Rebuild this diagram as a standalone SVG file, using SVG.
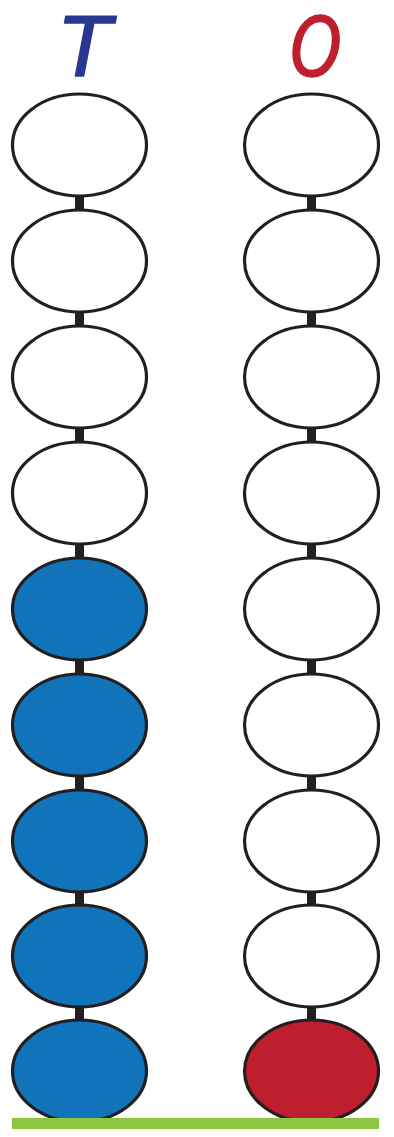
<svg xmlns="http://www.w3.org/2000/svg" width="394" height="1137" viewBox="0 0 394 1137">
<style>
.b{stroke:#231f20;stroke-width:3.2}
.w{fill:#ffffff}
.bl{fill:#1174bb}
.rd{fill:#be1e2d}
.lbl{font-family:"DejaVu Sans",sans-serif;font-weight:normal;font-style:italic;font-size:82px;text-anchor:middle;stroke-width:1.5;stroke-linejoin:round}
</style>
<rect width="394" height="1137" fill="#ffffff"/>
<text class="lbl" x="86" y="76" fill="#283891" stroke="#283891">T</text>
<text class="lbl" transform="translate(316 76) scale(0.8 1)" x="0" y="0" fill="#be1e2d" stroke="#be1e2d">O</text>
<g id="connectors" fill="#231f20">
<rect x="75" y="190" width="9" height="24"/>
<rect x="75" y="306" width="9" height="24"/>
<rect x="75" y="422" width="9" height="24"/>
<rect x="75" y="538" width="9" height="24"/>
<rect x="75" y="654" width="9" height="24"/>
<rect x="75" y="770" width="9" height="24"/>
<rect x="75" y="886" width="9" height="24"/>
<rect x="75" y="1002" width="9" height="24"/>
<rect x="307" y="190" width="9" height="24"/>
<rect x="307" y="306" width="9" height="24"/>
<rect x="307" y="422" width="9" height="24"/>
<rect x="307" y="538" width="9" height="24"/>
<rect x="307" y="654" width="9" height="24"/>
<rect x="307" y="770" width="9" height="24"/>
<rect x="307" y="886" width="9" height="24"/>
<rect x="307" y="1002" width="9" height="24"/>
</g>
<g id="tens">
<ellipse id="t1" class="b w" cx="79.5" cy="145" rx="67" ry="51"/>
<ellipse id="t2" class="b w" cx="79.5" cy="261" rx="67" ry="51"/>
<ellipse id="t3" class="b w" cx="79.5" cy="377" rx="67" ry="51"/>
<ellipse id="t4" class="b w" cx="79.5" cy="493" rx="67" ry="51"/>
<ellipse id="t5" class="b bl" cx="79.5" cy="609" rx="67" ry="51"/>
<ellipse id="t6" class="b bl" cx="79.5" cy="725" rx="67" ry="51"/>
<ellipse id="t7" class="b bl" cx="79.5" cy="841" rx="67" ry="51"/>
<ellipse id="t8" class="b bl" cx="79.5" cy="956" rx="67" ry="51"/>
<ellipse id="t9" class="b bl" cx="79.5" cy="1071" rx="67" ry="51"/>
</g>
<g id="ones">
<ellipse id="o1" class="b w" cx="311.5" cy="145" rx="67" ry="51"/>
<ellipse id="o2" class="b w" cx="311.5" cy="261" rx="67" ry="51"/>
<ellipse id="o3" class="b w" cx="311.5" cy="377" rx="67" ry="51"/>
<ellipse id="o4" class="b w" cx="311.5" cy="493" rx="67" ry="51"/>
<ellipse id="o5" class="b w" cx="311.5" cy="609" rx="67" ry="51"/>
<ellipse id="o6" class="b w" cx="311.5" cy="725" rx="67" ry="51"/>
<ellipse id="o7" class="b w" cx="311.5" cy="841" rx="67" ry="51"/>
<ellipse id="o8" class="b w" cx="311.5" cy="956" rx="67" ry="51"/>
<ellipse id="o9" class="b rd" cx="311.5" cy="1071" rx="67" ry="51"/>
</g>
<rect id="base" x="12" y="1118" width="367" height="11" fill="#8dc63f"/>
</svg>
